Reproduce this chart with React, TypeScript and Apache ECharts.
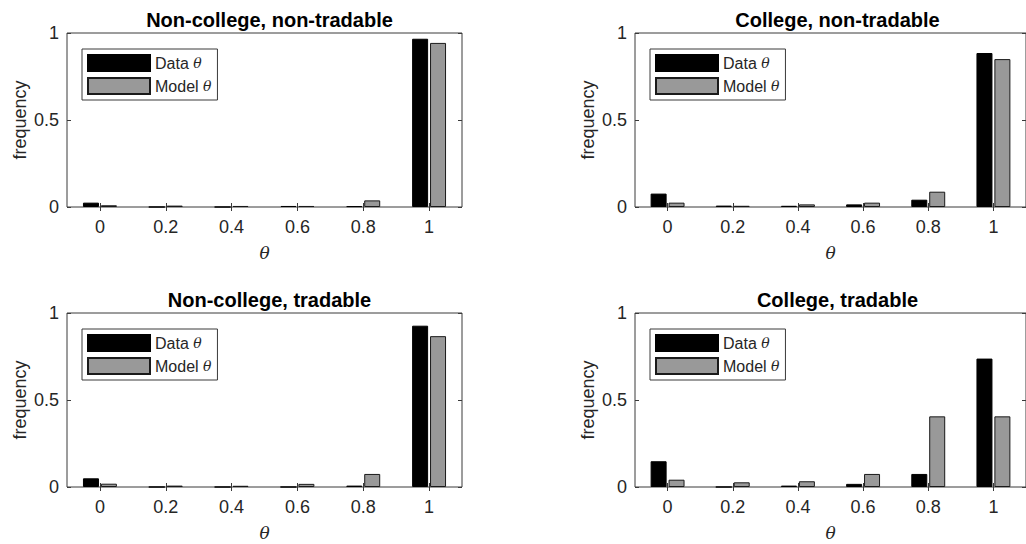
import React, { useEffect, useRef } from "react";
import * as echarts from "echarts";

const categories = ["0", "0.2", "0.4", "0.6", "0.8", "1"];
const panelTitles = [
  "Non-college, non-tradable",
  "College, non-tradable",
  "Non-college, tradable",
  "College, tradable",
];
const dataNcNt = [0.025, 0, 0, 0.006, 0.005, 0.967];
const modelNcNt = [0.01, 0.008, 0.006, 0.006, 0.038, 0.943];
const dataCNt = [0.077, 0.008, 0.007, 0.015, 0.042, 0.885];
const modelCNt = [0.025, 0.007, 0.015, 0.025, 0.088, 0.85];
const dataNcT = [0.05, 0, 0, 0, 0.008, 0.927];
const modelNcT = [0.019, 0.008, 0.007, 0.018, 0.075, 0.867];
const dataCT = [0.148, 0, 0.008, 0.018, 0.075, 0.738];
const modelCT = [0.042, 0.027, 0.033, 0.075, 0.406, 0.406];
const yTicks = [0, 0.5, 1];

const dataSets = [
  [dataNcNt, modelNcNt],
  [dataCNt, modelCNt],
  [dataNcT, modelNcT],
  [dataCT, modelCT],
];

const FONT = "'Liberation Sans', Arial, Helvetica, sans-serif";
const TXT = "#262626";
const BOX = "#3a3a3a";

export default function App() {
  const ref = useRef<HTMLDivElement>(null);
  useEffect(() => {
    if (!ref.current) return;
    const chart = echarts.init(ref.current, null, { renderer: "svg" });
    const lefts = [67, 635, 67, 635];
    const tops = [33, 33, 313, 313];
    const W = 395;
    const H = 174;
    const grid: any[] = [];
    const xAxis: any[] = [];
    const yAxis: any[] = [];
    const series: any[] = [];
    const title: any[] = [];
    const legend: any[] = [];
    for (let i = 0; i < 4; i++) {
      grid.push({
        left: lefts[i],
        top: tops[i],
        width: W,
        height: H,
        show: true,
        borderColor: BOX,
        borderWidth: 1,
        backgroundColor: "#fff",
      });
      xAxis.push({
        type: "category",
        gridIndex: i,
        data: categories,
        position: "bottom",
        axisLine: { show: false },
        axisTick: { show: true, inside: true, alignWithLabel: true, length: 4, lineStyle: { color: BOX } },
        axisLabel: { color: TXT, fontSize: 18, fontFamily: FONT, margin: 11 },
        name: "θ",
        nameLocation: "middle",
        nameGap: 37,
        nameTextStyle: { color: TXT, fontSize: 17, fontStyle: "italic", fontFamily: "'DejaVu Serif', serif" },
      });
      xAxis.push({
        type: "category",
        gridIndex: i,
        data: categories,
        position: "top",
        axisLine: { show: false },
        axisTick: { show: true, inside: true, alignWithLabel: true, length: 4, lineStyle: { color: BOX } },
        axisLabel: { show: false },
      });
      yAxis.push({
        type: "value",
        gridIndex: i,
        min: yTicks[0],
        max: yTicks[yTicks.length - 1],
        interval: 0.5,
        position: "left",
        splitLine: { show: false },
        axisLine: { show: false },
        axisTick: { show: true, inside: true, length: 4, lineStyle: { color: BOX } },
        axisLabel: { color: TXT, fontSize: 18, fontFamily: FONT, margin: 8 },
        name: "frequency",
        nameLocation: "middle",
        nameGap: 38,
        nameRotate: 90,
        nameTextStyle: { color: TXT, fontSize: 18, fontFamily: FONT },
      });
      yAxis.push({
        type: "value",
        gridIndex: i,
        min: yTicks[0],
        max: yTicks[yTicks.length - 1],
        interval: 0.5,
        position: "right",
        splitLine: { show: false },
        axisLine: { show: false },
        axisTick: { show: true, inside: true, length: 4, lineStyle: { color: BOX } },
        axisLabel: { show: false },
      });
      const [d, m] = dataSets[i];
      series.push({
        type: "bar",
        name: "Data θ",
        xAxisIndex: 2 * i,
        yAxisIndex: 2 * i,
        data: d,
        barWidth: 16,
        barGap: "12%",
        itemStyle: { color: "#000", borderColor: "#000", borderWidth: 1 },
      });
      series.push({
        type: "bar",
        name: "Model θ",
        xAxisIndex: 2 * i,
        yAxisIndex: 2 * i,
        data: m,
        barWidth: 16,
        barGap: "12%",
        itemStyle: { color: "#999999", borderColor: "#1a1a1a", borderWidth: 1 },
      });
      title.push({
        text: panelTitles[i],
        left: lefts[i] + W / 2,
        textAlign: "center",
        top: tops[i] - 28,
        textStyle: { color: "#000", fontSize: 20, fontWeight: "bold", fontFamily: FONT },
      });
      legend.push({
        orient: "vertical",
        left: lefts[i] + 15,
        top: tops[i] + 16,
        itemWidth: 62,
        itemHeight: 16,
        itemGap: 5,
        padding: [5, 6, 5, 5],
        borderColor: BOX,
        borderWidth: 1,
        backgroundColor: "#fff",
        icon: "rect",
        selectedMode: false,
        data: ["Data θ", "Model θ"],
        formatter: (name: string) => (name === "Data θ" ? "Data {t|θ}" : "Model {t|θ}"),
        textStyle: {
          color: TXT,
          fontSize: 16,
          fontFamily: FONT,
          rich: {
            t: { fontStyle: "italic", fontFamily: "'DejaVu Serif', serif", fontSize: 14, color: TXT },
          },
        },
      });
    }
    chart.setOption({
      animation: false,
      backgroundColor: "#fff",
      title,
      legend,
      grid,
      xAxis,
      yAxis,
      series,
    });
    return () => chart.dispose();
  }, []);
  return (
    <div
      ref={ref}
      style={{ position: "absolute", left: 0, top: 0, width: 1026, height: 544, background: "#fff" }}
    />
  );
}
